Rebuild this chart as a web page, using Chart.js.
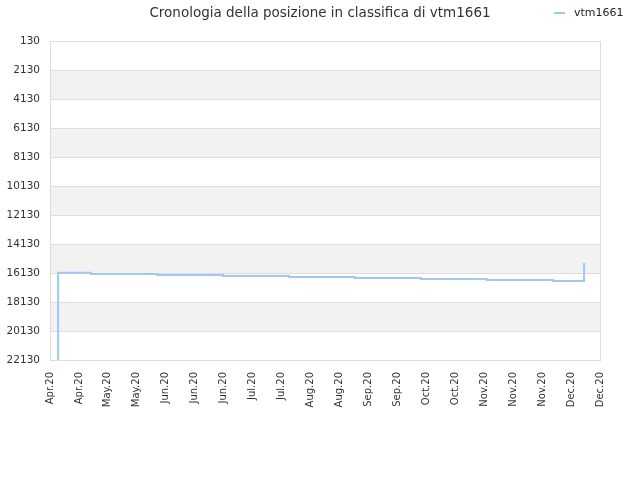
<!DOCTYPE html>
<html>
<head>
<meta charset="utf-8">
<script src="https://cdn.jsdelivr.net/npm/chart.js@4"></script>
<style>
  body { margin: 0; background: #fff; }
  #wrap { position: relative; width: 640px; height: 480px; }
  #legend { position: absolute; top: 6px; left: 554px; font: 11px "DejaVu Sans", sans-serif; color: #222; }
  #legend span.swatch { display: inline-block; width: 11px; height: 2px; background: #9ec9f3; vertical-align: middle; margin-right: 9px; }
</style>
</head>
<body>
<div id="wrap">
  <canvas id="rankChart" width="640" height="480"></canvas>
  <div id="legend"><span class="swatch"></span>vtm1661</div>
</div>
<script>
  // etichette asse x (una ogni ~2 settimane)
  const tickLabels = [
    "Apr.20", "Apr.20", "May.20", "May.20", "Jun.20", "Jun.20", "Jun.20",
    "Jul.20", "Jul.20", "Aug.20", "Aug.20", "Sep.20", "Sep.20", "Oct.20",
    "Oct.20", "Nov.20", "Nov.20", "Nov.20", "Dec.20", "Dec.20"
  ];

  // posizione dei punti misurata in intervalli di etichetta
  const pointX = [0.28, 0.28, 1.42, 3.70, 5.98, 8.26, 10.53, 12.81, 15.09, 17.37, 18.45, 18.45];
  const rankValues = [22130, 16110, 16200, 16270, 16340, 16410, 16480, 16545, 16610, 16680, 16680, 15440];

  const seriesName = "vtm1661";

  // fasce alternate grigie tra le linee della griglia
  const bandsPlugin = {
    id: "bands",
    beforeDatasetsDraw(chart) {
      const { ctx, chartArea, scales } = chart;
      const ticks = scales.y.ticks;
      ctx.save();
      ctx.fillStyle = "#f2f2f2";
      for (let i = 1; i < ticks.length - 1; i += 2) {
        const y1 = scales.y.getPixelForValue(ticks[i].value);
        const y2 = scales.y.getPixelForValue(ticks[i + 1].value);
        ctx.fillRect(chartArea.left, y1, chartArea.right - chartArea.left, y2 - y1);
      }
      // linee della griglia sopra le fasce
      ctx.strokeStyle = "#dddddd";
      ctx.lineWidth = 1;
      ticks.forEach((t) => {
        const y = Math.round(scales.y.getPixelForValue(t.value)) + 0.5;
        ctx.beginPath();
        ctx.moveTo(chartArea.left, y);
        ctx.lineTo(chartArea.right, y);
        ctx.stroke();
      });
      ctx.strokeRect(chartArea.left + 0.5, chartArea.top + 0.5,
        chartArea.right - chartArea.left, chartArea.bottom - chartArea.top);
      ctx.restore();
    }
  };

  new Chart(document.getElementById("rankChart"), {
    type: "line",
    data: {
      datasets: [
        {
          label: seriesName,
          data: pointX.map((x, i) => ({ x: x, y: rankValues[i] })),
          borderColor: "#9ec9f3",
          borderWidth: 2,
          pointRadius: 0,
          stepped: "before",
          fill: false,
        },
      ],
    },
    options: {
      responsive: false,
      animation: false,
      layout: { padding: 0 },
      plugins: {
        legend: { display: false },
        tooltip: { enabled: false },
        title: {
          display: true,
          text: "Cronologia della posizione in classifica di " + seriesName,
          color: "#333",
          font: { family: "DejaVu Sans", size: 13.5, weight: "normal" },
          padding: { top: 5, bottom: 19.8 },
        },
      },
      scales: {
        x: {
          type: "linear",
          min: 0,
          max: tickLabels.length - 1,
          afterBuildTicks(scale) {
            scale.ticks = tickLabels.map((_, i) => ({ value: i }));
          },
          afterFit(scale) {
            scale.height = 120;
          },
          grid: { display: false, drawTicks: false },
          border: { display: false },
          ticks: {
            autoSkip: false,
            maxRotation: 90,
            minRotation: 90,
            padding: 12,
            color: "#333",
            font: { family: "DejaVu Sans", size: 10 },
            callback: (v) => tickLabels[Math.round(v)],
          },
        },
        y: {
          reverse: true,
          min: 130,
          max: 22130,
          afterBuildTicks(scale) {
            const t = [];
            for (let v = 130; v <= 22130; v += 2000) t.push({ value: v });
            scale.ticks = t;
          },
          afterFit(scale) {
            scale.width = 50;
          },
          grid: { display: false, drawTicks: false },
          border: { display: false },
          ticks: {
            padding: 10,
            color: "#333",
            font: { family: "DejaVu Sans", size: 10.5 },
            callback: (v) => String(v),
          },
        },
        // asse vuoto a destra, solo per lasciare il margine
        yRight: {
          position: "right",
          display: true,
          afterFit(scale) {
            scale.width = 40;
          },
          grid: { display: false, drawTicks: false },
          border: { display: false },
          ticks: { display: false },
        },
      },
    },
    plugins: [bandsPlugin],
  });
</script>
</body>
</html>
